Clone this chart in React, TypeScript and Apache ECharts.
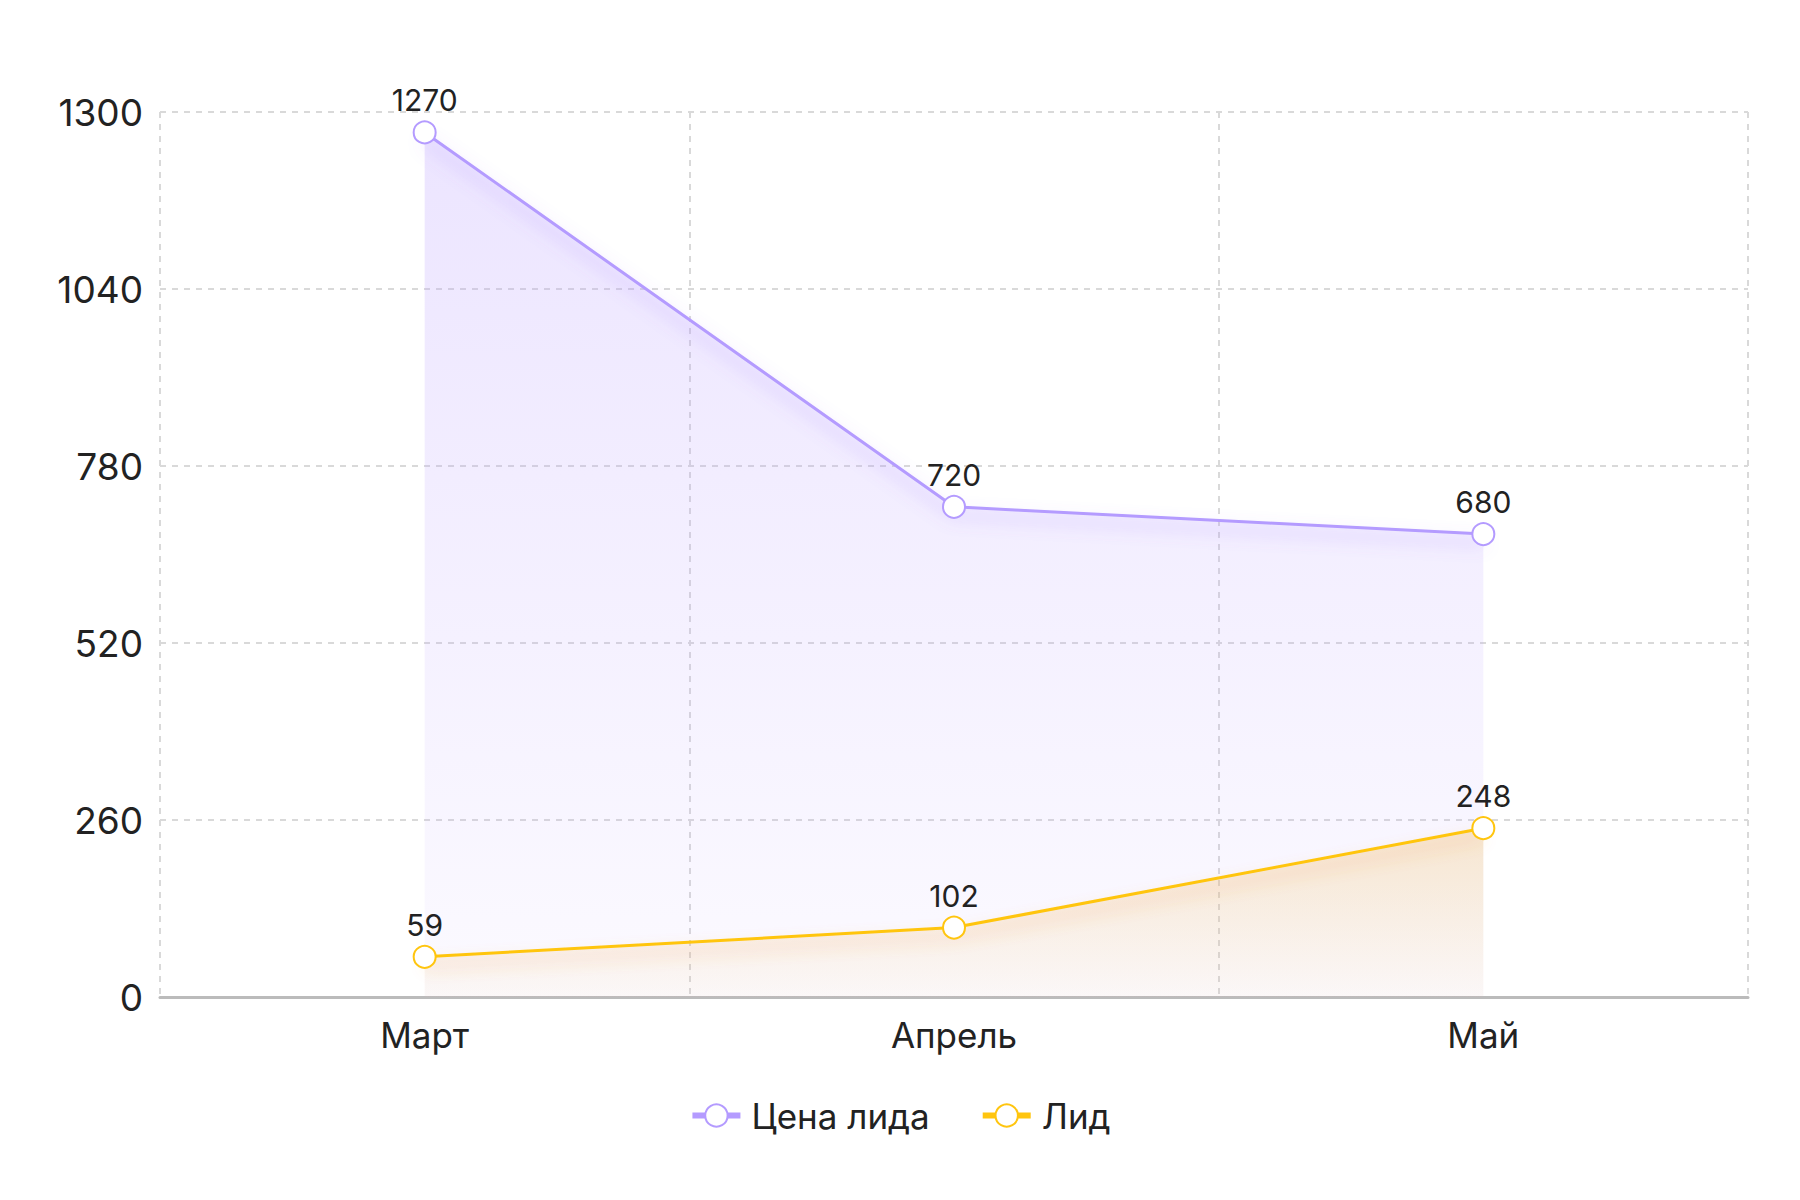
import React, { useEffect, useRef } from "react";
import * as echarts from "echarts";

const categories = ["Март", "Апрель", "Май"];
const priceValues = [1270, 720, 680];
const leadValues = [59, 102, 248];
const seriesNames = ["Цена лида", "Лид"];
const yMax = 1300;
const yInterval = 260;

const FONT = "Inter, 'Noto Sans', sans-serif";

export default function App() {
  const ref = useRef<HTMLDivElement>(null);
  useEffect(() => {
    document.body.style.margin = "0";
    const chart = echarts.init(ref.current!, null, { renderer: "svg" });
    const purple = "#B49BFF";
    const yellow = "#FFC50F";
    chart.setOption({
      animation: false,
      backgroundColor: "#ffffff",
      textStyle: { fontFamily: FONT },
      grid: { left: 160, right: 52, top: 112, bottom: 203, containLabel: false },
      legend: {
        bottom: 62,
        left: "center",
        itemWidth: 48,
        itemHeight: 28,
        itemGap: 50,
        textStyle: { fontSize: 35, color: "#222", fontFamily: FONT, padding: [0, 0, 0, 6] },
        lineStyle: { width: 6 },
        data: seriesNames,
      },
      xAxis: {
        type: "category",
        data: categories,
        boundaryGap: true,
        axisLine: { show: true, lineStyle: { color: "#bbbbbb", width: 3 } },
        axisTick: { show: false },
        axisLabel: { fontSize: 35, color: "#222", margin: 20, fontFamily: FONT },
        splitLine: { show: true, lineStyle: { color: "#d9d9d9", type: [6, 6], width: 2 } },
      },
      yAxis: {
        type: "value",
        min: 0,
        max: yMax,
        interval: yInterval,
        axisLine: { show: false },
        axisTick: { show: false },
        axisLabel: {
          fontSize: 37,
          color: "#222",
          margin: 17,
          fontFamily: FONT,
          formatter: (v: number) => String(v),
        },
        splitLine: { show: true, lineStyle: { color: "#d9d9d9", type: [6, 6], width: 2 } },
      },
      series: [
        {
          name: seriesNames[0],
          type: "line",
          data: priceValues,
          symbol: "emptyCircle",
          symbolSize: 22,
          itemStyle: { color: purple, borderWidth: 3, borderColor: purple },
          lineStyle: {
            color: purple,
            width: 3,
            shadowColor: "rgba(150,110,255,0.5)",
            shadowBlur: 16,
            shadowOffsetY: 9,
          },
          areaStyle: {
            color: new echarts.graphic.LinearGradient(0, 0, 0, 1, [
              { offset: 0, color: "rgba(190,165,255,0.42)" },
              { offset: 1, color: "rgba(190,165,255,0.08)" },
            ]),
          },
          label: {
            show: true,
            position: "top",
            distance: 5,
            fontSize: 30,
            color: "#222",
            fontFamily: FONT,
          },
          z: 2,
        },
        {
          name: seriesNames[1],
          type: "line",
          data: leadValues,
          symbol: "emptyCircle",
          symbolSize: 22,
          itemStyle: { color: yellow, borderWidth: 3, borderColor: yellow },
          lineStyle: {
            color: yellow,
            width: 3,
            shadowColor: "rgba(245,140,60,0.45)",
            shadowBlur: 16,
            shadowOffsetY: 9,
          },
          areaStyle: {
            color: new echarts.graphic.LinearGradient(0, 0, 0, 1, [
              { offset: 0, color: "rgba(242,200,120,0.5)" },
              { offset: 1, color: "rgba(242,200,120,0.08)" },
            ]),
          },
          label: {
            show: true,
            position: "top",
            distance: 5,
            fontSize: 30,
            color: "#222",
            fontFamily: FONT,
          },
          z: 3,
        },
      ],
    });
    return () => chart.dispose();
  }, []);
  return <div ref={ref} style={{ width: 1800, height: 1200 }} />;
}
